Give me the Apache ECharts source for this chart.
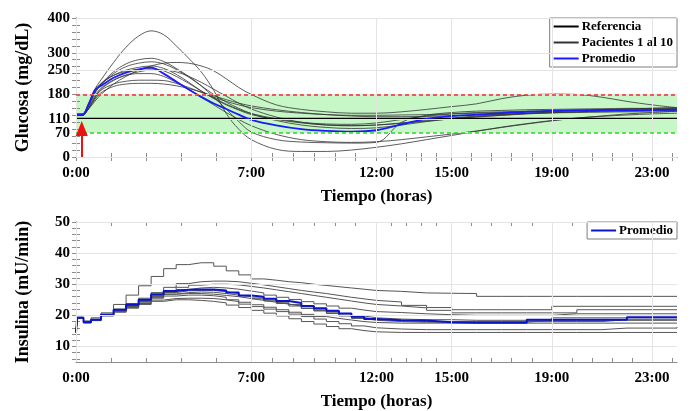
<!DOCTYPE html>
<html>
<head>
<meta charset="utf-8">
<script src="https://cdn.jsdelivr.net/npm/echarts@6/dist/echarts.min.js"></script>
<style>
  html, body { margin: 0; padding: 0; background: #fff; }
  #chart { width: 691px; height: 411px; }
</style>
</head>
<body>
<div id="chart"></div>
<script>
// ejes
const HOUR_TICKS = [0, 7, 12, 15, 19, 23];
const GLU_TICKS = [0, 70, 110, 180, 250, 300, 400];
const INS_TICKS = [10, 20, 30, 40, 50];
const GLU_LOW = 70, GLU_HIGH = 180;
const ARROW_AT = [0.23, 82]; // flecha roja (hora, mg/dL)

// glucosa (mg/dL)
const tGlu = [0, 0.25, 0.5, 0.75, 1, 1.5, 2, 2.5, 3, 3.5, 4, 4.5, 5, 5.5, 6, 6.5, 7,
  8, 9, 10, 11, 12, 13, 14, 15, 16, 17, 18, 19, 20, 21, 22, 23, 24];
const gluRef = [110, 110];
const tRef = [0, 24];
const gluProm = [121, 121, 150, 192,
  205, 228, 243, 252, 257, 240, 217, 194, 173, 154, 138, 122, 107,
  91, 80, 75, 73, 77, 94, 110, 118, 122, 126, 130, 133, 134, 134, 134, 135, 136];
const gluPacientes = [
  [122, 122, 150, 195, 222, 272, 316, 348, 363, 352, 320, 284, 245, 192, 125, 80, 50,
   22, 16, 16, 20, 28, 38, 50, 62, 74, 86, 96, 105, 112, 117, 121, 124, 126],
  [124, 124, 148, 185, 210, 245, 268, 280, 284, 275, 255, 232, 205, 172, 138, 102, 72,
   50, 43, 41, 40, 42, 100, 120, 128, 132, 134, 136, 137, 138, 139, 140, 140, 140],
  [122, 122, 138, 160, 180, 210, 232, 250, 262, 270, 272, 270, 262, 248, 225, 200, 180,
   150, 137, 130, 126, 126, 130, 137, 145, 153, 168, 178, 181, 180, 172, 160, 150, 142],
  [120, 120, 148, 182, 208, 240, 260, 270, 274, 268, 252, 230, 205, 180, 158, 140, 125,
   105, 92, 85, 82, 84, 92, 102, 110, 116, 120, 124, 127, 130, 132, 133, 134, 135],
  [123, 123, 152, 188, 210, 235, 250, 258, 262, 255, 238, 215, 190, 168, 150, 135, 122,
   108, 98, 92, 90, 92, 97, 103, 110, 115, 120, 125, 130, 133, 136, 138, 140, 142],
  [121, 121, 140, 170, 195, 220, 236, 245, 250, 250, 245, 232, 215, 195, 175, 155, 138,
   115, 100, 92, 90, 92, 98, 105, 112, 118, 122, 126, 128, 130, 132, 133, 134, 135],
  [122, 122, 145, 175, 198, 222, 235, 240, 240, 232, 215, 195, 172, 150, 128, 108, 90,
   65, 50, 44, 42, 44, 50, 58, 66, 75, 85, 95, 104, 112, 118, 124, 128, 132],
  [119, 119, 140, 170, 192, 210, 218, 221, 221, 220, 212, 200, 186, 172, 160, 150, 142,
   132, 126, 122, 120, 120, 121, 122, 124, 126, 128, 130, 132, 134, 136, 138, 140, 141],
  [120, 120, 138, 165, 185, 203, 210, 212, 212, 210, 205, 197, 187, 176, 165, 155, 147,
   136, 128, 122, 118, 116, 116, 117, 119, 121, 123, 125, 127, 128, 129, 130, 130, 131],
  [124, 124, 155, 192, 212, 235, 246, 252, 254, 248, 232, 212, 190, 170, 152, 137, 125,
   110, 100, 95, 94, 98, 108, 118, 124, 128, 130, 132, 134, 135, 136, 137, 137, 138]
];

// insulina (mU/min)
const tIns = [0, 0.05, 0.3, 0.6,
  1, 1.5, 2, 2.5, 3, 3.5, 4, 4.5, 5, 5.5, 6, 6.5, 7, 7.5, 8, 8.5, 9, 9.5, 10, 10.5, 11, 11.5, 12,
  13, 14, 15, 16, 17, 18, 19, 20, 21, 22, 23, 24];
const insProm = [14.5, 19.2, 17.8, 18.6,
  20.2, 21.8, 23.4, 25, 26.8, 27.8, 28.2, 28.3, 28.3, 28, 27.3, 26.4, 26, 25.3, 24.6, 24, 23, 22.3, 21.5, 20.6, 19.6, 18.8, 18.4,
  18.3, 17.8, 17.6, 17.6, 17.6, 18.6, 18.6, 18.6, 18.6, 19.4, 19.4, 19.4];
const insPacientes = [
  [14.5, 19.4, 18.2, 19.2,
   20.8, 23.5, 26.5, 29.5, 32.5, 35, 36.3, 36.9, 36.9, 35.8, 34.3, 33, 31.7, 31.3, 30.8, 30.5, 30, 29.6, 29.2, 28.8, 28.4, 28, 27.7,
   27.2, 27.1, 27, 26.1, 26.1, 26.1, 26.1, 26.1, 26.1, 26.1, 26.1, 26.1],
  [14.5, 19.0, 17.9, 18.6,
   20.3, 22, 23.8, 25.5, 27.3, 29, 30.2, 30.8, 31, 31, 30.8, 30.3, 29.8, 29.2, 28.6, 28, 27.5, 27, 26.4, 25.8, 25.3, 24.8, 24.3,
   23.2, 22.5, 21.8, 21.8, 21.8, 21.8, 22.9, 22.9, 22.9, 22.9, 22.9, 22.9],
  [14.5, 19.2, 17.8, 18.6,
   20.3, 21.8, 23.4, 25, 26.6, 28, 29, 29.7, 30, 30, 29.8, 29.3, 28.8, 28.2, 27.6, 27, 26.4, 25.8, 25.2, 24.6, 24, 23.5, 23,
   22.4, 21.6, 20.8, 20.8, 20.8, 20.8, 20.8, 21.8, 21.8, 21.8, 21.8, 21.8],
  [14.5, 19.1, 17.7, 18.5,
   20, 21.5, 23, 24.6, 26.2, 27.4, 28.3, 28.8, 29, 28.8, 28.4, 27.8, 27.2, 26.5, 25.8, 25.1, 24.4, 23.7, 23, 22.3, 21.7, 21.2, 20.9,
   20.5, 20.2, 20, 20, 20, 20, 20.5, 20.5, 20.5, 20.5, 20.5, 20.5],
  [14.5, 19.2, 17.9, 18.7,
   20.2, 21.7, 23.2, 24.8, 26.3, 27.3, 27.9, 28, 28, 27.6, 27, 26.3, 25.6, 24.9, 24.2, 23.5, 22.8, 22, 21.2, 20.5, 19.8, 19.2, 18.8,
   18.6, 18.6, 18.4, 18.4, 18.4, 18.4, 19.2, 19.2, 19.2, 19.2, 19.2, 19.2],
  [14.5, 19.0, 17.7, 18.4,
   20, 21.5, 23, 24.5, 25.8, 26.8, 27.3, 27.5, 27.4, 27, 26.5, 26, 25.3, 24.6, 23.8, 23, 22.2, 21.4, 20.6, 19.8, 19, 18.4, 18,
   17.8, 17.8, 17.8, 17.8, 17.8, 18.4, 18.4, 18.4, 18.4, 18.4, 18.4, 18.4],
  [14.5, 19.2, 17.8, 18.5,
   20, 21.4, 22.8, 24.2, 25.5, 26.2, 26.5, 26.5, 26.3, 25.8, 25, 24.2, 23.4, 22.6, 21.8, 21, 20.3, 19.6, 19, 18.5, 18, 17.7, 17.5,
   17.5, 17.5, 17.5, 17.5, 17.5, 17.5, 17.5, 17.5, 17.5, 17.5, 17.5, 17.5],
  [14.5, 19.1, 17.6, 18.4,
   19.9, 21.2, 22.5, 23.8, 24.9, 25.4, 25.5, 25.5, 25.4, 25, 24.4, 23.6, 22.8, 22, 21.2, 20.4, 19.6, 18.8, 18, 17.3, 16.6, 16, 15.6,
   15.4, 15.4, 15.4, 15.4, 15.4, 15.4, 15.4, 15.4, 15.9, 15.9, 15.9, 16.2],
  [14.5, 19.0, 17.6, 18.3,
   19.8, 21, 22.3, 23.5, 24.5, 25, 25, 24.8, 24.5, 24, 23.3, 22.5, 21.6, 20.7, 19.8, 18.9, 18, 17.2, 16.4, 15.7, 15.1, 14.7, 14.5,
   14.5, 14.5, 14.5, 14.5, 14.5, 14.5, 14.5, 14.5, 14.5, 14.5, 14.5, 14.5],
  [14.5, 19.3, 18, 18.7,
   20.1, 21.6, 23, 24.6, 26, 26.8, 27, 27, 26.8, 26.4, 26, 25.4, 24.8, 24.2, 23.6, 23, 22.3, 21.6, 20.8, 20, 19.3, 18.7, 18.3,
   18, 18, 18, 18, 18, 18, 18, 18, 18.6, 18.6, 18.6, 18.6]
];

const SERIF = 'Liberation Serif';
const AXIS_GRAY = '#8c8c8c';
const pts = (ts, vs) => ts.map((t, i) => [t, vs[i]]);

// marcas menores tipo MATLAB
const X_SPLITS = [5, 6, 5, 5, 5];
const xMinor = [];
HOUR_TICKS.forEach((h, i) => {
  if (i === HOUR_TICKS.length - 1) { xMinor.push(h, h + 0.8); return; }
  const step = (HOUR_TICKS[i + 1] - h) / X_SPLITS[i];
  for (let k = 0; k < X_SPLITS[i]; k++) xMinor.push(h + k * step);
});
const yMinorGlu = [];
for (let v = 0; v <= 400; v += 20) yMinorGlu.push(v);
const yMinorIns = [];
for (let v = 6; v <= 50; v += 2) yMinorIns.push(v);

const labelFont = { fontFamily: SERIF, fontWeight: 'bold', fontSize: 15, color: '#000' };
const nameFont = { fontFamily: SERIF, fontWeight: 'bold', fontSize: 17, color: '#000' };

function xAxes(gi) {
  const tick = { inside: true, length: 4, customValues: xMinor, lineStyle: { color: AXIS_GRAY } };
  return [
    { gridIndex: gi, type: 'value', min: 0, max: 24, position: 'bottom',
      name: 'Tiempo (horas)', nameLocation: 'middle', nameGap: 31, nameTextStyle: nameFont,
      axisLine: { lineStyle: { color: AXIS_GRAY } }, axisTick: tick,
      axisLabel: Object.assign({ customValues: HOUR_TICKS, formatter: v => v + ':00', margin: 9 }, labelFont),
      splitLine: { show: false } },
    { gridIndex: gi, type: 'value', min: 0, max: 24, position: 'top',
      axisLine: { lineStyle: { color: AXIS_GRAY } }, axisTick: tick,
      axisLabel: { show: false }, splitLine: { show: false } }
  ];
}
function yAxes(gi, min, max, ticks, minor, name) {
  const tick = { inside: true, length: 4, customValues: minor, lineStyle: { color: AXIS_GRAY } };
  return [
    { gridIndex: gi, type: 'value', min: min, max: max, position: 'left',
      name: name, nameLocation: 'middle', nameGap: 44,
      nameTextStyle: Object.assign({}, nameFont, { fontSize: 18 }),
      axisLine: { show: true, lineStyle: { color: AXIS_GRAY } }, axisTick: tick,
      axisLabel: Object.assign({ customValues: ticks, margin: 6 }, labelFont),
      splitLine: { show: false } },
    { gridIndex: gi, type: 'value', min: min, max: max, position: 'right',
      axisLine: { show: true, lineStyle: { color: AXIS_GRAY } }, axisTick: tick,
      axisLabel: { show: false }, splitLine: { show: false } }
  ];
}
function gridLines(xi, yi, yTicks) {
  return {
    type: 'line', xAxisIndex: xi, yAxisIndex: yi, data: [], z: 1, silent: true,
    markLine: {
      silent: true, symbol: 'none', label: { show: false },
      lineStyle: { color: '#e4e4e4', width: 1, type: 'solid' },
      data: HOUR_TICKS.map(h => ({ xAxis: h })).concat(yTicks.map(v => ({ yAxis: v })))
    }
  };
}

const series = [gridLines(0, 0, GLU_TICKS), gridLines(2, 2, INS_TICKS)];

gluPacientes.forEach(p => series.push({
  name: 'Pacientes 1 al 10', type: 'line', xAxisIndex: 0, yAxisIndex: 0,
  data: pts(tGlu, p), smooth: 0.35, showSymbol: false, symbol: 'none',
  lineStyle: { color: '#333', width: 0.8 }, z: 2
}));
series.push({
  name: 'Referencia', type: 'line', xAxisIndex: 0, yAxisIndex: 0,
  data: pts(tRef, gluRef), showSymbol: false, symbol: 'none',
  lineStyle: { color: '#000', width: 2 }, z: 2
});
series.push({
  name: 'Promedio', type: 'line', xAxisIndex: 0, yAxisIndex: 0,
  data: pts(tGlu, gluProm), smooth: 0.35, showSymbol: false, symbol: 'none',
  lineStyle: { color: '#1a1aff', width: 1.8 }, z: 2
});
// banda de normoglucemia
series.push({
  type: 'line', xAxisIndex: 0, yAxisIndex: 0, data: [], z: 3, silent: true,
  markArea: { silent: true, itemStyle: { color: 'rgba(0,220,0,0.22)' },
    data: [[{ yAxis: GLU_LOW }, { yAxis: GLU_HIGH }]] }
});
series.push({
  type: 'line', xAxisIndex: 0, yAxisIndex: 0, data: [], z: 4, silent: true,
  markLine: {
    silent: true, symbol: 'none', label: { show: false },
    data: [
      { yAxis: GLU_HIGH, lineStyle: { color: '#e8302a', width: 1.5, type: [4, 3] } },
      { yAxis: GLU_LOW, lineStyle: { color: '#1ee01e', width: 1.5, type: [4, 3] } },
      [{ coord: [ARROW_AT[0], 0], symbol: 'none' },
       { coord: ARROW_AT, symbol: 'triangle', symbolSize: [12, 15],
         lineStyle: { color: '#ee1111', width: 2, type: 'solid' } }]
    ]
  }
});

insPacientes.forEach(p => series.push({
  name: 'Pacientes insulina', type: 'line', xAxisIndex: 2, yAxisIndex: 2,
  data: pts(tIns, p), step: 'end', showSymbol: false, symbol: 'none',
  lineStyle: { color: '#555', width: 1 }, z: 2
}));
series.push({
  name: 'Insulina promedio', type: 'line', xAxisIndex: 2, yAxisIndex: 2,
  data: pts(tIns, insProm), step: 'end', showSymbol: false, symbol: 'none',
  lineStyle: { color: '#0a14c8', width: 2 }, z: 3
});

const legendBase = {
  orient: 'vertical', right: 14, itemWidth: 25, itemHeight: 12, itemGap: 3,
  padding: [2, 4, 2, 3], backgroundColor: '#fff', borderColor: '#7f7f7f', borderWidth: 1,
  borderRadius: 0, selectedMode: false,
  itemStyle: { opacity: 0 },
  textStyle: { fontFamily: SERIF, fontWeight: 'bold', fontSize: 13, color: '#000', padding: [0, 0, 0, -2] }
};

const chart = echarts.init(document.getElementById('chart'));
chart.setOption({
  animation: false,
  backgroundColor: '#fff',
  grid: [
    { left: 76, right: 14, top: 18, height: 139 },
    { left: 76, right: 14, top: 222, height: 140 }
  ],
  xAxis: xAxes(0).concat(xAxes(1)),
  yAxis: yAxes(0, 0, 400, GLU_TICKS, yMinorGlu, 'Glucosa (mg/dL)')
    .concat(yAxes(1, 5, 50, INS_TICKS, yMinorIns, 'Insulina (mU/min)')),
  legend: [
    Object.assign({}, legendBase, { top: 18, data: ['Referencia', 'Pacientes 1 al 10', 'Promedio'] }),
    Object.assign({}, legendBase, { top: 222, data: ['Insulina promedio'], formatter: () => 'Promedio' })
  ],
  series: series
});
</script>
</body>
</html>
